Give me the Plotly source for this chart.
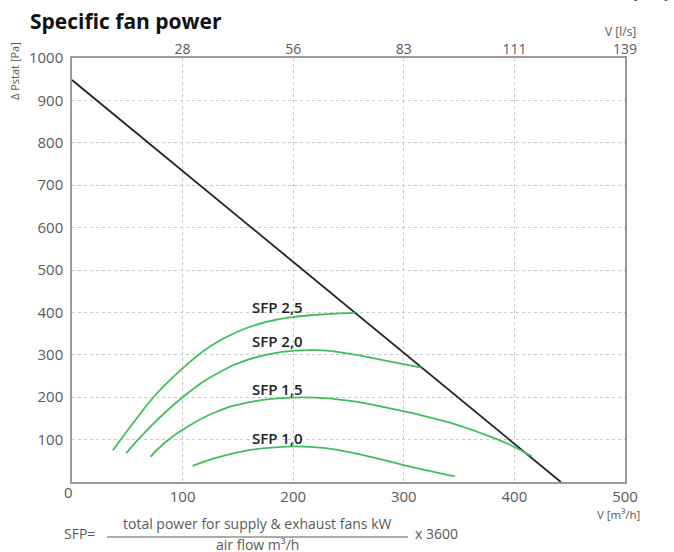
import plotly.graph_objects as go

# ── data ──────────────────────────────────────────────────────────────────
# system curve (black), V [m3/h] vs static pressure [Pa]
SYS_X = [0, 442]
SYS_Y = [948, 0]

# SFP iso-lines (green)
SFP25_X = [37, 55, 75, 100, 125, 150, 175, 200, 230, 256]
SFP25_Y = [75, 138, 204, 268, 320, 355, 377, 389, 396, 399]

SFP20_X = [49, 70, 100, 130, 160, 190, 220, 250, 280, 316]
SFP20_Y = [68, 128, 200, 254, 289, 307, 311, 303, 288, 270]

SFP15_X = [71, 85, 100, 130, 160, 190, 220, 250, 280, 310, 340, 370, 395, 416]
SFP15_Y = [60, 95, 123, 165, 188, 198, 199, 192, 178, 161, 141, 115, 89, 60]

SFP10_X = [109, 130, 160, 190, 215, 240, 270, 300, 325, 346]
SFP10_Y = [38, 57, 75, 83, 83, 76, 59, 40, 25, 13]

SFP_LABELS = ["SFP 2,5", "SFP 2,0", "SFP 1,5", "SFP 1,0"]
SFP_LABEL_X = [161, 161, 161, 161]
SFP_LABEL_Y = [413, 333, 219, 104]

X_TICKS = [100, 200, 300, 400, 500]
Y_TICKS = [100, 200, 300, 400, 500, 600, 700, 800, 900, 1000]
TOP_TICK_TEXT = ["28", "56", "83", "111", "139"]  # l/s at the m3/h grid lines

GREEN = "#3fbf5c"
GREY_TXT = "#5a5a5a"
FONT = "Open Sans"

# plot area in pixels (used only to place the loose text)
L, R, T, B = 72, 625, 58, 482


def px(xp):
    return (xp - L) / (R - L)


def py(yp):
    return (B - yp) / (B - T)


fig = go.Figure()

fig.add_trace(go.Scatter(x=SYS_X, y=SYS_Y, mode="lines",
                         line=dict(color="#222222", width=1.8), hoverinfo="skip"))
for xs, ys in [(SFP25_X, SFP25_Y), (SFP20_X, SFP20_Y),
               (SFP15_X, SFP15_Y), (SFP10_X, SFP10_Y)]:
    fig.add_trace(go.Scatter(x=xs, y=ys, mode="lines",
                             line=dict(color=GREEN, width=1.8, shape="spline", smoothing=1.3)))

# invisible trace so the top (l/s) axis is drawn
fig.add_trace(go.Scatter(x=[0], y=[0], xaxis="x2", mode="markers",
                         marker=dict(opacity=0), hoverinfo="skip"))

ann = []
for t, x, y in zip(SFP_LABELS, SFP_LABEL_X, SFP_LABEL_Y):
    ann.append(dict(x=x, y=y, xref="x", yref="y", text=t, showarrow=False,
                    xanchor="left", yanchor="middle",
                    font=dict(family=FONT, size=15, color="#222222", weight=600)))

ann += [
    dict(x=px(28), y=py(21), text="<b>Specific fan power</b>",
         font=dict(family=FONT, size=21, color="#111111"), xanchor="left"),
    dict(x=px(15), y=py(40), text="Δ Pstat [Pa]", textangle=-90,
         font=dict(family=FONT, size=11, color=GREY_TXT), xanchor="center", yanchor="top"),
    dict(x=px(62), y=py(492), text="0",
         font=dict(family=FONT, size=15, color=GREY_TXT)),
    dict(x=px(638), y=py(32), text="V [l/s]",
         font=dict(family=FONT, size=12, color=GREY_TXT), xanchor="right"),
    dict(x=px(670), y=py(5), text="V [m³/h]",
         font=dict(family=FONT, size=12, color=GREY_TXT), xanchor="right", yanchor="bottom"),
    dict(x=px(642), y=py(514), text="V [m³/h]",
         font=dict(family=FONT, size=11.5, color=GREY_TXT), xanchor="right"),
    dict(x=px(62), y=py(533), text="SFP=",
         font=dict(family=FONT, size=14, color=GREY_TXT), xanchor="left"),
    dict(x=px(257), y=py(523), text="total power for supply & exhaust fans kW",
         font=dict(family=FONT, size=14, color=GREY_TXT)),
    dict(x=px(257), y=py(544), text="air flow m³/h",
         font=dict(family=FONT, size=14, color=GREY_TXT)),
    dict(x=px(413), y=py(533), text="x 3600",
         font=dict(family=FONT, size=14, color=GREY_TXT), xanchor="left"),
]
for a in ann:
    a.setdefault("showarrow", False)
    a.setdefault("xref", "paper")
    a.setdefault("yref", "paper")
    a.setdefault("yanchor", "middle")

fig.update_layout(
    width=674, height=552,
    margin=dict(l=L, r=674 - R, t=T, b=552 - B),
    paper_bgcolor="white", plot_bgcolor="white",
    showlegend=False,
    font=dict(family=FONT, size=15, color=GREY_TXT),
    xaxis=dict(range=[0, 500], tickvals=X_TICKS, showgrid=True,
               gridcolor="#c9c9c9", griddash="dot", gridwidth=1,
               showline=True, linecolor="#9a9a9a", linewidth=1.5, mirror=True,
               zeroline=False, ticks="", ticklabelstandoff=0,
               tickfont=dict(size=15, color=GREY_TXT)),
    xaxis2=dict(range=[0, 500], overlaying="x", side="top", tickvals=X_TICKS,
                ticktext=TOP_TICK_TEXT, showgrid=False, zeroline=False, ticks="",
                ticklabelstandoff=0, tickfont=dict(size=14, color=GREY_TXT)),
    yaxis=dict(range=[0, 1000], tickvals=Y_TICKS, showgrid=True,
               gridcolor="#c9c9c9", griddash="dot", gridwidth=1,
               showline=True, linecolor="#9a9a9a", linewidth=1.5, mirror=True,
               zeroline=False, ticks="", ticklabelstandoff=4,
               tickfont=dict(size=15, color=GREY_TXT)),
    annotations=ann,
    shapes=[dict(type="line", xref="paper", yref="paper",
                 x0=px(107), x1=px(408), y0=py(537), y1=py(537),
                 line=dict(color=GREY_TXT, width=1.2))],
)

# page margin would shift the figure by 8px; remove it
fig.write_html("out.html", config={"displayModeBar": False},
               post_script="document.body.style.margin='0';")
